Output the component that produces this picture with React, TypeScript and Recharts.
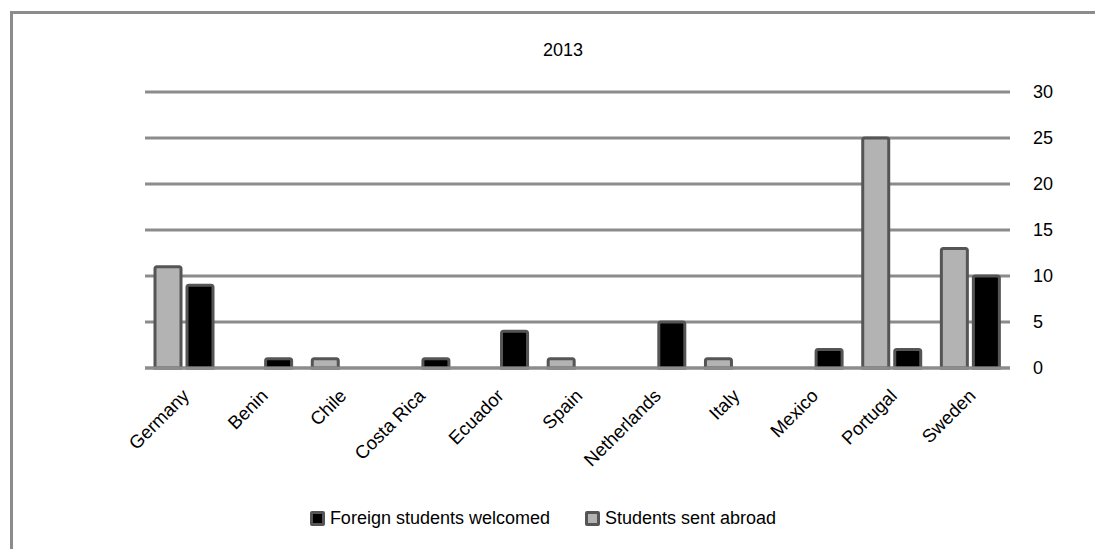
import React from 'react'
import {
  Bar,
  BarChart,
  CartesianGrid,
  Legend,
  Rectangle,
  XAxis,
  YAxis,
} from 'recharts'

const countries = [
  'Germany',
  'Benin',
  'Chile',
  'Costa Rica',
  'Ecuador',
  'Spain',
  'Netherlands',
  'Italy',
  'Mexico',
  'Portugal',
  'Sweden',
]
const sentAbroad = [11, 0, 1, 0, 0, 1, 0, 1, 0, 25, 13]
const welcomed = [9, 1, 0, 1, 4, 0, 5, 0, 2, 2, 10]
const yTicks = [0, 5, 10, 15, 20, 25, 30]

const FONT = '"Liberation Sans", Arial, sans-serif'
const GRID = '#8c8c8c'
const EDGE = '#555555'

const data = countries.map((name, i) => ({
  name,
  sent: sentAbroad[i],
  welcomed: welcomed[i],
}))

const legendItems = [
  { label: 'Foreign students welcomed', fill: '#000000' },
  { label: 'Students sent abroad', fill: '#b3b3b3' },
]

// zero values are not drawn at all in the original
function BarShape(props: any) {
  if (!props.height || Math.abs(props.height) < 0.5) return <g />
  return <Rectangle {...props} />
}

function CountryTick(props: any) {
  const { x, y, payload } = props
  const tx = x + 6
  const ty = y + 21
  return (
    <text
      x={tx}
      y={ty}
      transform={`rotate(-45, ${tx}, ${ty})`}
      textAnchor="end"
      fontFamily={FONT}
      fontSize={18.5}
      fill="#000"
    >
      {payload.value}
    </text>
  )
}

function LegendBox() {
  return (
    <div
      style={{
        display: 'flex',
        justifyContent: 'center',
        alignItems: 'center',
        height: 30,
        fontFamily: FONT,
        fontSize: 18,
        color: '#000',
      }}
    >
      {legendItems.map((item, i) => (
        <div
          key={item.label}
          style={{ display: 'flex', alignItems: 'center', marginLeft: i ? 35 : 0 }}
        >
          <span
            style={{
              display: 'inline-block',
              width: 9,
              height: 9,
              background: item.fill,
              border: `3px solid ${EDGE}`,
              borderRadius: 2,
              marginRight: 5,
            }}
          />
          <span>{item.label}</span>
        </div>
      ))}
    </div>
  )
}

export default function App(): React.ReactElement {
  return (
    <div
      style={{
        position: 'absolute',
        top: 0,
        left: 0,
        width: 1095,
        height: 549,
        background: '#fff',
        overflow: 'hidden',
      }}
    >
      {/* frame: left and top edges only, drawn as svg lines */}
      <svg
        width={1095}
        height={549}
        style={{ position: 'absolute', top: 0, left: 0 }}
      >
        <line x1={11.5} y1={12.5} x2={11.5} y2={549} stroke={GRID} strokeWidth={3} />
        <line x1={10} y1={12.5} x2={1095} y2={12.5} stroke={GRID} strokeWidth={3} />
      </svg>
      <div
        style={{
          position: 'absolute',
          left: 463,
          width: 200,
          top: 40,
          textAlign: 'center',
          fontFamily: FONT,
          fontSize: 18,
          color: '#000',
        }}
      >
        2013
      </div>
      <div style={{ position: 'absolute', top: 0, left: 0 }}>
        <BarChart
          width={1095}
          height={549}
          data={data}
          margin={{ top: 92, right: 25, bottom: 16, left: 145 }}
          barSize={26}
          barGap={6}
        >
          <CartesianGrid vertical={false} stroke={GRID} strokeWidth={3} />
          <XAxis
            dataKey="name"
            height={135}
            interval={0}
            tickLine={false}
            axisLine={{ stroke: GRID, strokeWidth: 3 }}
            tick={<CountryTick />}
          />
          <YAxis
            orientation="right"
            width={60}
            domain={[0, 30]}
            ticks={yTicks}
            axisLine={false}
            tickLine={false}
            tickMargin={17}
            tick={{ fontFamily: FONT, fontSize: 18, fill: '#000' }}
          />
          <Legend
            verticalAlign="bottom"
            content={() => <LegendBox />}
            wrapperStyle={{ left: 0, width: 1086, height: 30 }}
          />
          <Bar
            dataKey="sent"
            name="Students sent abroad"
            fill="#b3b3b3"
            stroke={EDGE}
            strokeWidth={3}
            radius={[2, 2, 0, 0]}
            shape={BarShape}
            isAnimationActive={false}
          />
          <Bar
            dataKey="welcomed"
            name="Foreign students welcomed"
            fill="#000000"
            stroke={EDGE}
            strokeWidth={3}
            radius={[2, 2, 0, 0]}
            shape={BarShape}
            isAnimationActive={false}
          />
        </BarChart>
      </div>
    </div>
  )
}
